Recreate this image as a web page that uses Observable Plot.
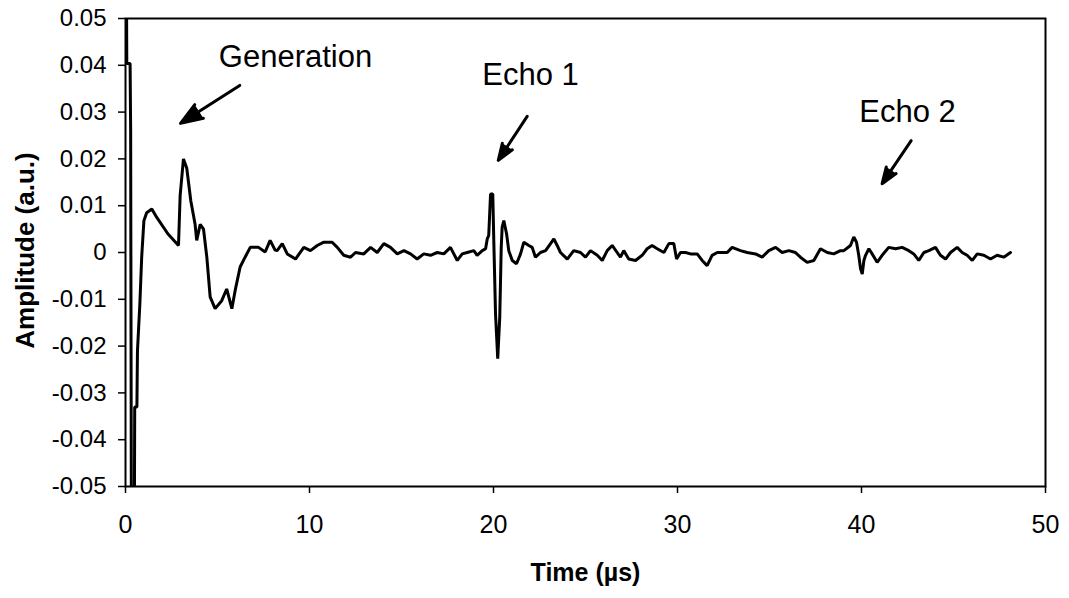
<!DOCTYPE html>
<html>
<head>
<meta charset="utf-8">
<script src="https://cdn.jsdelivr.net/npm/d3@7"></script>
<script src="https://cdn.jsdelivr.net/npm/@observablehq/plot@0.6"></script>
<style>
  html, body { margin: 0; padding: 0; background: white; }
  #chart { width: 1069px; height: 598px; }
</style>
</head>
<body>
<div id="chart"></div>
<script>
// Time axis values (µs)
const times = [
  0.00, 0.05, 0.07, 0.25, 0.28, 0.32, 0.48, 0.50, 0.62, 0.65, 0.78, 0.88, 1.00, 1.15, 1.43, 1.70, 2.30, 2.88,
  2.97, 3.15, 3.33, 3.55, 3.78, 3.87, 4.06, 4.24, 4.42, 4.60, 4.87, 5.23, 5.50, 5.78, 5.96, 6.23, 6.50, 6.78,
  7.23, 7.59, 7.86, 8.13, 8.24, 8.52, 8.79, 9.24, 9.69, 10.05, 10.42, 10.78, 11.23, 11.51, 11.86, 12.23, 12.50,
  12.95, 13.32, 13.68, 14.04, 14.40, 14.77, 15.13, 15.49, 15.85, 16.21, 16.58, 16.94, 17.30, 17.66, 18.03, 18.30,
  18.57, 18.93, 19.11, 19.39, 19.57, 19.66, 19.74, 19.84, 19.96, 20.02, 20.11, 20.23, 20.34, 20.42, 20.47, 20.56,
  20.71, 20.83, 21.02, 21.25, 21.47, 21.65, 21.92, 22.10, 22.28, 22.55, 22.83, 23.10, 23.28, 23.46, 23.64, 24.01,
  24.36, 24.73, 25.00, 25.27, 25.64, 25.91, 26.18, 26.45, 26.72, 26.90, 27.08, 27.35, 27.72, 28.08, 28.35, 28.62,
  28.90, 29.26, 29.53, 29.80, 29.95, 30.16, 30.43, 30.71, 31.07, 31.34, 31.61, 31.88, 32.16, 32.70, 32.97, 33.42,
  33.79, 34.24, 34.60, 34.96, 35.33, 35.69, 36.05, 36.41, 36.68, 37.05, 37.41, 37.77, 38.14, 38.49, 38.86, 39.04,
  39.40, 39.58, 39.73, 39.85, 39.95, 40.04, 40.13, 40.22, 40.40, 40.58, 40.85, 41.12, 41.48, 41.85, 42.21, 42.57,
  42.84, 43.11, 43.39, 43.66, 44.02, 44.29, 44.57, 44.84, 45.20, 45.47, 45.74, 46.02, 46.29, 46.65, 47.01, 47.37,
  47.73, 48.10
];
// Amplitude values (a.u.)
const amplitudes = [
  0.0600, 0.0600, 0.0404, 0.0404, 0.0260, -0.0600, -0.0600, -0.0330, -0.0330, -0.0210, -0.0110, -0.0010, 0.0068,
  0.0085, 0.0093, 0.0075, 0.0040, 0.0015, 0.0122, 0.0200, 0.0180, 0.0110, 0.0061, 0.0026, 0.0060, 0.0050, -0.0010,
  -0.0095, -0.0120, -0.0103, -0.0078, -0.0120, -0.0081, -0.0031, -0.0010, 0.0011, 0.0011, 0.0001, 0.0026, 0.0005,
  0.0004, 0.0019, -0.0003, -0.0014, 0.0011, 0.0004, 0.0015, 0.0022, 0.0022, 0.0011, -0.0006, -0.0010, 0.0000,
  -0.0003, 0.0011, 0.0000, 0.0019, 0.0011, -0.0003, 0.0004, -0.0003, -0.0014, -0.0003, -0.0006, 0.0000, -0.0003,
  0.0011, -0.0017, -0.0003, 0.0000, 0.0004, -0.0006, 0.0004, 0.0008, 0.0029, 0.0036, 0.0125, 0.0125, 0.0019,
  -0.0131, -0.0227, -0.0138, 0.0011, 0.0054, 0.0068, 0.0040, 0.0004, -0.0017, -0.0024, -0.0003, 0.0022, 0.0015,
  0.0011, -0.0010, 0.0000, 0.0004, 0.0019, 0.0029, 0.0015, 0.0000, -0.0014, 0.0004, 0.0000, -0.0010, 0.0004,
  -0.0006, -0.0017, 0.0004, 0.0015, 0.0000, -0.0010, 0.0004, -0.0014, -0.0017, -0.0006, 0.0008, 0.0015, 0.0008,
  0.0000, 0.0019, 0.0019, -0.0014, 0.0000, 0.0000, -0.0003, -0.0003, -0.0017, -0.0028, -0.0006, 0.0000, 0.0000,
  0.0011, 0.0004, 0.0000, -0.0003, -0.0010, 0.0004, 0.0011, 0.0000, 0.0004, 0.0000, -0.0010, -0.0021, -0.0017,
  0.0008, 0.0000, -0.0003, 0.0004, 0.0004, 0.0015, 0.0033, 0.0022, -0.0006, -0.0035, -0.0046, -0.0017, -0.0006,
  0.0008, -0.0003, -0.0021, -0.0006, 0.0011, 0.0008, 0.0011, 0.0004, -0.0003, -0.0017, 0.0000, 0.0004, 0.0011,
  -0.0006, -0.0014, 0.0000, 0.0011, 0.0000, -0.0006, -0.0017, -0.0003, -0.0006, -0.0014, -0.0006, -0.0010, 0.0000
];
// Axis ticks
const xTicks = [0, 10, 20, 30, 40, 50];
const yTicks = [-0.05, -0.04, -0.03, -0.02, -0.01, 0, 0.01, 0.02, 0.03, 0.04, 0.05];
// Annotations (labels, label anchor, arrow start and tip in data units)
const annLabels = ["Generation", "Echo 1", "Echo 2"];
const annTextT = [9.24, 22.01, 42.50];
const annTextA = [0.0417, 0.0380, 0.0299];
const arrowT1 = [6.21, 21.83, 42.70];
const arrowA1 = [0.0357, 0.0291, 0.0239];
const arrowT2 = [2.99, 20.26, 41.12];
const arrowA2 = [0.0276, 0.0197, 0.0147];

const data = times.map((t, i) => ({t, a: amplitudes[i]}));
const ann = annLabels.map((label, i) => ({
  label, tx: annTextT[i], ty: annTextA[i],
  x1: arrowT1[i], y1: arrowA1[i], x2: arrowT2[i], y2: arrowA2[i]
}));

const fmtY = d => d === 0 ? "0" : (d < 0 ? "-" : "") + Math.abs(d).toFixed(2);

const chart = Plot.plot({
  width: 1069,
  height: 598,
  marginLeft: 125,
  marginRight: 24,
  marginTop: 18,
  marginBottom: 112,
  style: {fontFamily: "'Liberation Sans', Arial, sans-serif", background: "white", color: "black", overflow: "visible"},
  x: {domain: [0, 50]},
  y: {domain: [-0.05, 0.05]},
  marks: [
    Plot.frame({stroke: "black", strokeWidth: 2}),
    Plot.axisX({ticks: xTicks, tickSize: 7, tickPadding: 22, fontSize: 25, label: null, tickFormat: d => String(d), strokeWidth: 1.5}),
    Plot.axisY({ticks: yTicks, tickSize: 7, tickPadding: 12, fontSize: 24, label: null, tickFormat: fmtY, strokeWidth: 1.5}),
    Plot.line(data, {x: "t", y: "a", stroke: "black", strokeWidth: 3, clip: true, strokeLinejoin: "miter"}),
    Plot.arrow(ann, {x1: "x1", y1: "y1", x2: "x2", y2: "y2", stroke: "black", fill: "black", strokeWidth: 3, headLength: 16, headAngle: 40, strokeLinejoin: "miter"}),
    Plot.text(ann, {x: "tx", y: "ty", text: "label", fontSize: 31, fill: "black"}),
    Plot.text(["Time (µs)"], {frameAnchor: "bottom", dy: 94, fontSize: 25, fontWeight: "bold", fill: "black"}),
    Plot.text(["Amplitude (a.u.)"], {frameAnchor: "left", textAnchor: "middle", dx: -100, dy: -2, rotate: -90, fontSize: 26, fontWeight: "bold", fill: "black"})
  ]
});
document.getElementById("chart").appendChild(chart);
</script>
</body>
</html>
